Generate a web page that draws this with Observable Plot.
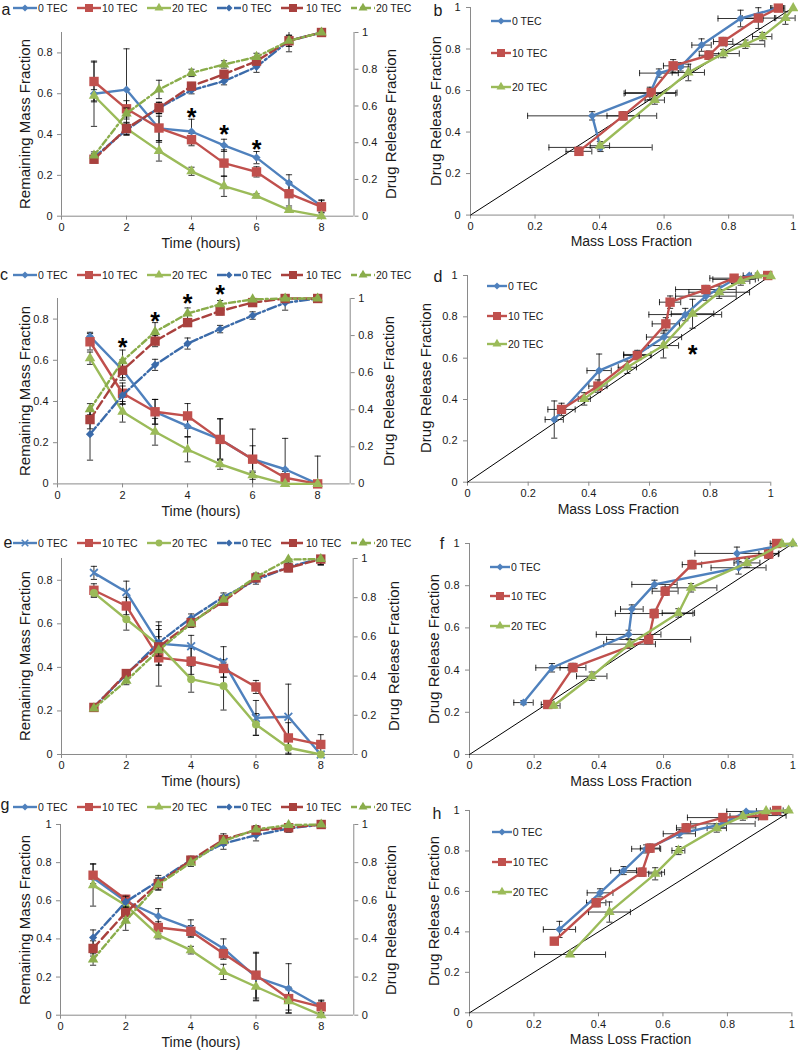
<!DOCTYPE html>
<html><head><meta charset="utf-8">
<script src="https://cdn.jsdelivr.net/npm/d3@7"></script>
<script src="https://cdn.jsdelivr.net/npm/@observablehq/plot@0.6"></script>
<style>
body{margin:0;background:#fff;}
#page{position:relative;width:798px;height:1050px;overflow:hidden;background:#fff;font-family:"Liberation Sans",Arial,Helvetica,sans-serif;color:#1a1a1a;}
.t{position:absolute;white-space:nowrap;transform:translate(-50%,-50%);}
.r{transform:translate(-50%,-50%) rotate(-90deg);}
</style></head>
<body><div id="page"></div>
<script>
// ---------- shared categories / ticks ----------
const time = [1,2,3,4,5,6,7,8];
const tecNames = ["0 TEC","10 TEC","20 TEC"];
const timeTicks = [0,2,4,6,8];
const massTicks09 = [0,0.2,0.4,0.6,0.8];
const unitTicks = [0,0.2,0.4,0.6,0.8,1];
const identityLine = [0,1];

// ---------- panel a ----------
const aMass = [[0.60,0.62,0.43,0.415,0.347,0.287,0.163,0.05],[0.66,0.526,0.432,0.375,0.26,0.217,0.11,0.046],[0.59,0.43,0.32,0.22,0.147,0.10,0.03,0.0]];
const aMassErr = [[0.16,0.20,0.06,0.06,0.03,0.03,0.04,0.03],[0.095,0.04,0.07,0.03,0.065,0.025,0.06,0.03],[0.03,0.03,0.05,0.02,0.05,0.01,0.01,0.0]];
const aRel = [[0.32,0.47,0.59,0.686,0.735,0.813,0.955,1.0],[0.31,0.477,0.59,0.708,0.773,0.844,0.955,1.0],[0.33,0.559,0.69,0.78,0.826,0.867,0.955,1.0]];
const aRelErr = [[0.02,0.03,0.03,0.02,0.02,0.03,0.06,0],[0.02,0.03,0.03,0.02,0.02,0.02,0.03,0],[0.02,0.03,0.05,0.02,0.02,0.02,0.03,0]];
const aStarTime = [4,5,6], aStarY = [0.51,0.428,0.352];

// ---------- panel c ----------
const cMass = [[0.716,0.553,0.35,0.28,0.216,0.12,0.071,0.0],[0.69,0.44,0.35,0.33,0.216,0.12,0.03,0.0],[0.61,0.35,0.253,0.167,0.096,0.042,0.0,0.0]];
const cMassErr = [[0.02,0.05,0.06,0.05,0.1,0.065,0.15,0],[0.04,0.05,0.06,0.06,0.1,0.146,0.03,0.135],[0.03,0.05,0.065,0.06,0.025,0.02,0,0]];
const cRel = [[0.268,0.478,0.642,0.757,0.835,0.908,0.977,1.0],[0.347,0.613,0.77,0.87,0.932,0.978,1.0,1.0],[0.403,0.662,0.82,0.919,0.969,0.995,1.0,1.0]];
const cRelErr = [[0.14,0.05,0.03,0.03,0.02,0.02,0.04,0],[0.05,0.04,0.03,0.02,0.02,0.02,0,0],[0.03,0.06,0.05,0.03,0.02,0,0,0]];
const cStarTime = [2,3,4,5], cStarY = [0.763,0.905,1.004,1.049];

// ---------- panel e ----------
const eMass = [[0.834,0.746,0.509,0.497,0.425,0.168,0.173,0.0],[0.754,0.682,0.444,0.428,0.395,0.31,0.076,0.046],[0.742,0.621,0.502,0.346,0.314,0.138,0.031,0.0]];
const eMassErr = [[0.03,0.05,0.1,0.05,0.07,0.08,0.15,0],[0.03,0.04,0.13,0.06,0.04,0.03,0.07,0.045],[0.02,0.05,0.09,0.06,0.11,0.05,0.03,0]];
const eRel = [[0.243,0.408,0.571,0.697,0.804,0.889,0.957,1.0],[0.24,0.413,0.549,0.673,0.782,0.901,0.952,0.997],[0.235,0.376,0.532,0.668,0.791,0.906,0.995,0.997]];
const eRelErr = [[0.01,0.02,0.03,0.02,0.02,0.02,0.02,0.03],[0.01,0.02,0.03,0.02,0.02,0.02,0.02,0.03],[0.01,0.02,0.03,0.02,0.02,0.02,0.02,0.03]];

// ---------- panel g ----------
const gMass = [[0.72,0.598,0.519,0.455,0.35,0.20,0.14,0.044],[0.734,0.608,0.46,0.44,0.323,0.21,0.087,0.044],[0.682,0.577,0.42,0.341,0.227,0.149,0.073,0.0]];
const gMassErr = [[0.03,0.02,0.04,0.045,0.05,0.125,0.13,0.03],[0.06,0.02,0.03,0.03,0.03,0.12,0.06,0.035],[0.11,0.02,0.02,0.02,0.04,0.07,0.06,0]];
const gRel = [[0.407,0.594,0.703,0.813,0.9,0.944,0.979,1.0],[0.35,0.538,0.69,0.813,0.921,0.97,0.983,1.0],[0.292,0.495,0.685,0.8,0.913,0.974,0.997,1.0]];
const gRelErr = [[0.04,0.03,0.03,0.02,0.03,0.03,0.02,0],[0.04,0.03,0.03,0.02,0.03,0.02,0.02,0],[0.03,0.05,0.03,0.02,0.02,0.02,0.01,0]];

// ---------- panel b ----------
const bLoss = [[0.403,0.377,0.556,0.584,0.651,0.716,0.837,0.95],[0.336,0.473,0.56,0.628,0.739,0.783,0.892,0.954],[0.401,0.571,0.675,0.783,0.852,0.904,0.976,1.0]];
const bRel = [[0.326,0.478,0.586,0.684,0.714,0.819,0.947,0.997],[0.307,0.478,0.59,0.719,0.77,0.836,0.949,0.997],[0.334,0.554,0.687,0.778,0.823,0.86,0.949,0.997]];
const bLossErr = [[0.16,0.2,0.08,0.06,0.03,0.03,0.07,0.02],[0.04,0.05,0.08,0.03,0.03,0.03,0.05,0.02],[0.03,0.03,0.05,0.05,0.06,0.03,0.03,0]];
const bRelErr = [[0.02,0.02,0.03,0.02,0.02,0.03,0.04,0],[0.02,0.02,0.02,0.03,0.02,0.02,0.05,0],[0.02,0.02,0.04,0.02,0.02,0.02,0.03,0]];

// ---------- panel d ----------
const dLoss = [[0.286,0.434,0.56,0.648,0.718,0.786,0.879,0.929],[0.31,0.43,0.56,0.654,0.668,0.786,0.879,0.99],[0.385,0.527,0.646,0.742,0.83,0.901,0.956,1.0]];
const dRel = [[0.303,0.54,0.618,0.702,0.811,0.9,0.981,1.0],[0.352,0.465,0.613,0.766,0.871,0.932,0.987,1.0],[0.403,0.556,0.661,0.815,0.919,0.973,1.0,0.997]];
const dLossErr = [[0.03,0.04,0.045,0.058,0.12,0.1,0.07,0.02],[0.045,0.03,0.045,0.045,0.035,0.1,0.08,0.01],[0.02,0.03,0.05,0.07,0.1,0.03,0.02,0]];
const dRelErr = [[0.09,0.08,0.02,0.03,0.03,0.02,0.02,0],[0.03,0.03,0.02,0.03,0.03,0.02,0.01,0],[0.03,0.03,0.06,0.07,0.03,0.02,0,0]];
const dStarX = [0.742], dStarY = [0.645];

// ---------- panel f ----------
const fLoss = [[0.167,0.255,0.492,0.502,0.572,0.832,0.827,1.0],[0.242,0.32,0.554,0.571,0.605,0.688,0.925,0.95],[0.26,0.378,0.495,0.646,0.685,0.858,0.966,1.0]];
const fRel = [[0.246,0.411,0.569,0.689,0.806,0.885,0.953,1.0],[0.237,0.412,0.545,0.668,0.774,0.9,0.95,1.0],[0.231,0.371,0.523,0.671,0.79,0.908,0.997,1.0]];
const fLossErr = [[0.03,0.05,0.1,0.035,0.07,0.085,0.13,0],[0.02,0.04,0.13,0.12,0.04,0.03,0.03,0.02],[0.02,0.047,0.08,0.05,0.08,0.04,0.03,0]];
const fRelErr = [[0.01,0.02,0.02,0.02,0.02,0.03,0.03,0],[0.01,0.02,0.02,0.02,0.02,0.02,0.02,0],[0.01,0.02,0.02,0.02,0.02,0.02,0.01,0]];

// ---------- panel h ----------
const hLoss = [[0.279,0.405,0.478,0.548,0.651,0.786,0.858,0.959],[0.263,0.393,0.535,0.56,0.672,0.786,0.912,0.953],[0.312,0.434,0.576,0.648,0.767,0.848,0.92,0.99]];
const hRel = [[0.412,0.593,0.703,0.81,0.885,0.934,0.995,0.992],[0.354,0.544,0.695,0.814,0.914,0.965,0.975,1.0],[0.288,0.498,0.687,0.802,0.913,0.972,0.997,1.0]];
const hLossErr = [[0.05,0.04,0.04,0.045,0.05,0.1,0.06,0.02],[0,0.03,0.07,0.03,0.03,0.11,0.07,0.02],[0.11,0.065,0.02,0.02,0.03,0.04,0.03,0]];
const hRelErr = [[0.04,0.02,0.02,0.02,0.02,0.02,0.01,0],[0,0.02,0.02,0.02,0.02,0.02,0.02,0],[0,0.05,0.03,0.02,0.02,0.02,0.01,0]];

// ---------- styles ----------
const massColors = ["#4F81BD","#C0504D","#9BBB59"];
const relColors = ["#3B6BAA","#A9413E","#8AAD4B"];
const relDash = ["9,3,2,3","9,4","6,3,2,3"];
const stdSymbols = ["diamond2","square","triangle"];
const eMassSymbols = ["times","square","circle"];
const symR = {diamond2:3.7, square:5.3, triangle:3.9, circle:4.0, times:3.6};
const symD3 = {diamond2:d3.symbolDiamond2, square:d3.symbolSquare, triangle:d3.symbolTriangle, circle:d3.symbolCircle, times:d3.symbolTimes};
const FONT = '"Liberation Sans", Arial, Helvetica, sans-serif';
const AX = "#8a8a8a", TXT = "#1a1a1a";
const hCap = {draw(ctx, size){const w=Math.sqrt(size)/1.6; ctx.moveTo(-w,0); ctx.lineTo(w,0);}};
const vCap = {draw(ctx, size){const w=Math.sqrt(size)/1.6; ctx.moveTo(0,-w); ctx.lineTo(0,w);}};
const fmt = d => String(+d.toFixed(2));
const page = document.getElementById("page");
const baseStyle = {background:"transparent", overflow:"visible", fontFamily:FONT, fontSize:"11px", color:TXT};

function put(el, left, top){ el.style.position="absolute"; el.style.left=left+"px"; el.style.top=top+"px"; page.appendChild(el); }
function text(str, cx, cy, size, rot){
  const d=document.createElement("div"); d.className="t"+(rot?" r":""); d.textContent=str;
  d.style.left=cx+"px"; d.style.top=cy+"px"; d.style.fontSize=size+"px"; page.appendChild(d);
}
function dots(rows, xf, yf, sym, color){
  const isStroke = sym==="times";
  return Plot.dot(rows,{x:xf,y:yf,symbol:sym,r:symR[sym],fill:isStroke?"none":color,stroke:isStroke?color:"none",strokeWidth:isStroke?1.8:0});
}
function vErr(rows, xf, yf, ef, lo, hi){
  const r = rows.filter(d=>ef(d)>0);
  const up = d=>Math.min(hi,yf(d)+ef(d)), dn = d=>Math.max(lo,yf(d)-ef(d));
  return [
    Plot.ruleX(r,{x:xf,y1:dn,y2:up,stroke:"#000",strokeWidth:0.8}),
    Plot.dot(r.filter(d=>yf(d)+ef(d)<=hi),{x:xf,y:up,symbol:hCap,r:2.8,fill:"none",stroke:"#000",strokeWidth:0.8}),
    Plot.dot(r.filter(d=>yf(d)-ef(d)>=lo),{x:xf,y:dn,symbol:hCap,r:2.8,fill:"none",stroke:"#000",strokeWidth:0.8})
  ];
}
function hErr(rows, xf, yf, ef, lo, hi){
  const r = rows.filter(d=>ef(d)>0);
  const rt = d=>Math.min(hi,xf(d)+ef(d)), lt = d=>Math.max(lo,xf(d)-ef(d));
  return [
    Plot.ruleY(r,{y:yf,x1:lt,x2:rt,stroke:"#000",strokeWidth:0.8}),
    Plot.dot(r,{x:rt,y:yf,symbol:vCap,r:2.8,fill:"none",stroke:"#000",strokeWidth:0.8}),
    Plot.dot(r,{x:lt,y:yf,symbol:vCap,r:2.8,fill:"none",stroke:"#000",strokeWidth:0.8})
  ];
}
function seriesRows(vals, errs){ return vals.flatMap((row,s)=>row.map((v,i)=>({t:time[i],s,v,e:errs[s][i]}))); }

function legendSvg(sym, color, dash, w){
  const svg = d3.create("svg").attr("width",w).attr("height",12).style("display","block").style("overflow","visible");
  svg.append("line").attr("x1",0).attr("x2",w).attr("y1",6).attr("y2",6).attr("stroke",color).attr("stroke-width",2.4).attr("stroke-dasharray",dash);
  const r = symR[sym]*0.85, isStroke = sym==="times";
  svg.append("path").attr("transform",`translate(${w/2},6)`).attr("d",d3.symbol(symD3[sym],Math.PI*r*r)())
    .attr("fill",isStroke?"none":color).attr("stroke",isStroke?color:"none").attr("stroke-width",1.6);
  return svg.node();
}
function topLegend(cy, massSyms){
  const div=document.createElement("div");
  div.style.cssText=`display:flex;align-items:center;height:14px;font-size:10.5px;white-space:nowrap;`;
  const entries=[...[0,1,2].map(s=>[massSyms[s],massColors[s],null,tecNames[s]]),...[0,1,2].map(s=>[stdSymbols[s],relColors[s],relDash[s],tecNames[s]])];
  entries.forEach(([sym,col,dash,lab])=>{
    div.appendChild(legendSvg(sym,col,dash,24));
    const sp=document.createElement("span"); sp.textContent=lab; sp.style.marginLeft="1px"; sp.style.marginRight="9.5px"; div.appendChild(sp);
  });
  put(div, 13, cy-7);
}
function sideLegend(x, ys){
  ys.forEach((y,s)=>{
    const div=document.createElement("div");
    div.style.cssText=`display:flex;align-items:center;height:14px;font-size:10.5px;white-space:nowrap;`;
    div.appendChild(legendSvg(stdSymbols[s],massColors[s],null,20));
    const sp=document.createElement("span"); sp.textContent=tecNames[s]; sp.style.marginLeft="1px"; div.appendChild(sp);
    put(div, x, y-7);
  });
}

function leftPanel(p){
  const [x0,x1,y0,y1]=p.frame, mL=50,mR=50,mT=24,mB=30;
  const common={width:x1-x0+mL+mR,height:y1-y0+mT+mB,marginLeft:mL,marginRight:mR,marginTop:mT,marginBottom:mB,style:baseStyle};
  const mRows=seriesRows(p.mass,p.massErr), rRows=seriesRows(p.rel,p.relErr);
  const stars = p.starT ? p.starT.map((t,i)=>({t,v:p.starY[i]})) : [];
  const starMark = Plot.text(stars,{x:"t",y:"v",text:()=>"*",fontSize:25,fontWeight:"bold",dy:6,fill:"#000"});
  const massPlot=Plot.plot({...common,x:{domain:[0,9]},y:{domain:[0,p.massMax]},marks:[
    Plot.ruleY([0],{stroke:AX}),Plot.ruleX([0],{stroke:AX}),Plot.ruleX([9],{stroke:AX}),
    Plot.axisX(timeTicks,{tickSize:4,tickPadding:3,stroke:AX,fill:TXT,tickFormat:fmt,label:null,fontSize:11}),
    Plot.axisY(p.massTicks,{anchor:"left",tickSize:4,tickPadding:5,stroke:AX,fill:TXT,tickFormat:fmt,label:null,fontSize:11}),
    ...vErr(mRows,d=>d.t,d=>d.v,d=>d.e,0,p.massMax),
    ...[0,1,2].flatMap(s=>{const r=mRows.filter(d=>d.s===s); return [
      Plot.line(r,{x:"t",y:"v",stroke:massColors[s],strokeWidth:2.4}), dots(r,"t","v",p.massSyms[s],massColors[s])];}),
    ...(p.starOn==="mass"?[starMark]:[])
  ]});
  const relPlot=Plot.plot({...common,x:{domain:[0,9],axis:null},y:{domain:[0,1]},marks:[
    Plot.axisY(unitTicks,{anchor:"right",tickSize:4,tickPadding:4,stroke:AX,fill:TXT,tickFormat:fmt,label:null,fontSize:11}),
    ...vErr(rRows,d=>d.t,d=>d.v,d=>d.e,0,1),
    ...[0,1,2].flatMap(s=>{const r=rRows.filter(d=>d.s===s); return [
      Plot.line(r,{x:"t",y:"v",stroke:relColors[s],strokeWidth:2.4,strokeDasharray:relDash[s]}), dots(r,"t","v",stdSymbols[s],relColors[s])];}),
    ...(p.starOn==="rel"?[starMark]:[])
  ]});
  put(massPlot,x0-mL,y0-mT); put(relPlot,x0-mL,y0-mT);
  topLegend(p.legendY,p.massSyms);
  text("Remaining Mass Fraction",24,(y0+y1)/2,15,true);
  text("Drug Release Fraction",p.rTitleX,(y0+y1)/2,15,true);
  text("Time (hours)",201,y1+27,14,false);
  text(p.letter,p.letterXY[0],p.letterXY[1],16,false);
}

function rightPanel(p){
  const [x0,x1,y0,y1]=p.frame, mL=45,mR=6,mT=12,mB=30;
  const rows=p.loss.flatMap((row,s)=>row.map((x,i)=>({s,x,y:p.rel[s][i],ex:p.lossErr[s][i],ey:p.relErr[s][i]})));
  const stars = p.starX ? p.starX.map((x,i)=>({x,y:p.starY[i]})) : [];
  const plot=Plot.plot({width:x1-x0+mL+mR,height:y1-y0+mT+mB,marginLeft:mL,marginRight:mR,marginTop:mT,marginBottom:mB,style:baseStyle,
    x:{domain:[0,1]},y:{domain:[0,1]},marks:[
    Plot.ruleY([0],{stroke:AX}),Plot.ruleX([0],{stroke:AX}),
    Plot.axisX(unitTicks,{tickSize:4,tickPadding:3,stroke:AX,fill:TXT,tickFormat:fmt,label:null,fontSize:11}),
    Plot.axisY(unitTicks,{anchor:"left",tickSize:4,tickPadding:6,stroke:AX,fill:TXT,tickFormat:fmt,label:null,fontSize:11}),
    Plot.line(identityLine,{x:d=>d,y:d=>d,stroke:"#000",strokeWidth:1}),
    ...hErr(rows,d=>d.x,d=>d.y,d=>d.ex,0,1.02),
    ...vErr(rows,d=>d.x,d=>d.y,d=>d.ey,0,1),
    ...[0,1,2].flatMap(s=>{const r=rows.filter(d=>d.s===s); return [
      Plot.line(r,{x:"x",y:"y",stroke:massColors[s],strokeWidth:2.4}), dots(r,"x","y",stdSymbols[s],massColors[s])];}),
    Plot.text(stars,{x:"x",y:"y",text:()=>"*",fontSize:25,fontWeight:"bold",dy:6,fill:"#000"})
  ]});
  put(plot,x0-mL,y0-mT);
  sideLegend(p.legendX,p.legendYs);
  text("Drug Release Fraction",p.yTitleX,(y0+y1)/2,15,true);
  text("Mass Loss Fraction",(x0+x1)/2,y1+27,14,false);
  text(p.letter,p.letterXY[0],p.letterXY[1],16,false);
}

leftPanel({frame:[61,353.5,32.3,216],massMax:0.9,massTicks:massTicks09,mass:aMass,massErr:aMassErr,rel:aRel,relErr:aRelErr,massSyms:stdSymbols,starT:aStarTime,starY:aStarY,starOn:"mass",legendY:8,rTitleX:390,letter:"a",letterXY:[6,10]});
leftPanel({frame:[57.3,350,298.3,483.7],massMax:0.9,massTicks:massTicks09,mass:cMass,massErr:cMassErr,rel:cRel,relErr:cRelErr,massSyms:stdSymbols,starT:cStarTime,starY:cStarY,starOn:"rel",legendY:275,rTitleX:388,letter:"c",letterXY:[4,275]});
leftPanel({frame:[61,352.7,558.3,754.3],massMax:0.9,massTicks:massTicks09,mass:eMass,massErr:eMassErr,rel:eRel,relErr:eRelErr,massSyms:eMassSymbols,legendY:543.3,rTitleX:393,letter:"e",letterXY:[8,543]});
leftPanel({frame:[60,353.3,824.3,1015],massMax:1,massTicks:unitTicks,mass:gMass,massErr:gMassErr,rel:gRel,relErr:gRelErr,massSyms:stdSymbols,legendY:806.7,rTitleX:390,letter:"g",letterXY:[5,805]});

rightPanel({frame:[470,792.7,6.7,214.3],loss:bLoss,rel:bRel,lossErr:bLossErr,relErr:bRelErr,legendX:491,legendYs:[20.7,53.3,87.3],yTitleX:435,letter:"b",letterXY:[438,11]});
rightPanel({frame:[466.7,770,275,481.7],loss:dLoss,rel:dRel,lossErr:dLossErr,relErr:dRelErr,starX:dStarX,starY:dStarY,legendX:487,legendYs:[286,315.7,344],yTitleX:425,letter:"d",letterXY:[438,277]});
rightPanel({frame:[469.3,792.7,543.3,754.3],loss:fLoss,rel:fRel,lossErr:fLossErr,relErr:fRelErr,legendX:490,legendYs:[566.7,596,626],yTitleX:433,letter:"f",letterXY:[442,544]});
rightPanel({frame:[469.3,791.7,810,1012.3],loss:hLoss,rel:hRel,lossErr:hLossErr,relErr:hRelErr,legendX:491.7,legendYs:[831.7,862.3,892.3],yTitleX:433,letter:"h",letterXY:[437,814]});
</script></body></html>
